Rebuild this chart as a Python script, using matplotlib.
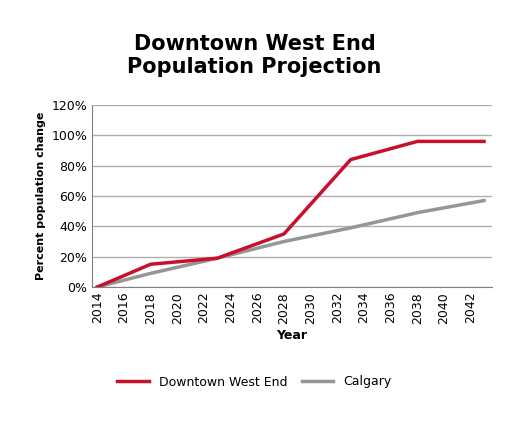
import matplotlib.pyplot as plt

years = [2014, 2018, 2023, 2028, 2033, 2038, 2043]
west_end = [0, 15, 19, 35, 84, 96, 96]
calgary = [0, 9, 19, 30, 39, 49, 57]
xticks = list(range(2014, 2043, 2))
yticks = [0, 20, 40, 60, 80, 100, 120]

fig = plt.figure(figsize=(5.09, 4.25), dpi=100)
ax = fig.add_axes([92/509, 1-287/425, 400/509, 182/425])

ax.plot(years, calgary, color='#969696', lw=2.5, label='Calgary', zorder=2)
ax.plot(years, west_end, color='#c8102e', lw=2.5, label='Downtown West End', zorder=3)

ax.set_xlim(2013.6, 2043.6)
ax.set_ylim(0, 120)
ax.set_yticks(yticks)
ax.set_yticklabels([f'{v}%' for v in yticks], fontsize=9)
ax.set_xticks(xticks)
ax.set_xticklabels([str(x) for x in xticks], rotation=90, fontsize=9)
ax.tick_params(length=0)
ax.grid(axis='y', color='#b0b0b0', lw=1)
ax.set_axisbelow(True)
for s in ['top', 'right']:
    ax.spines[s].set_visible(False)
ax.spines['left'].set_color('#808080')
ax.spines['bottom'].set_color('#808080')

ax.set_xlabel('Year', fontsize=9, fontweight='bold')
ax.set_ylabel('Percent population change', fontsize=8, fontweight='bold')
fig.suptitle('Downtown West End\nPopulation Projection', fontsize=15,
             fontweight='bold', y=0.92, linespacing=1.2)

h, l = ax.get_legend_handles_labels()
fig.legend(h[::-1], l[::-1], loc='center', bbox_to_anchor=(0.5, 382/425 * 0 + 1-382/425),
           ncol=2, frameon=False, fontsize=9, handlelength=2.5, columnspacing=1.2)

fig.savefig('out.png', dpi=100)
